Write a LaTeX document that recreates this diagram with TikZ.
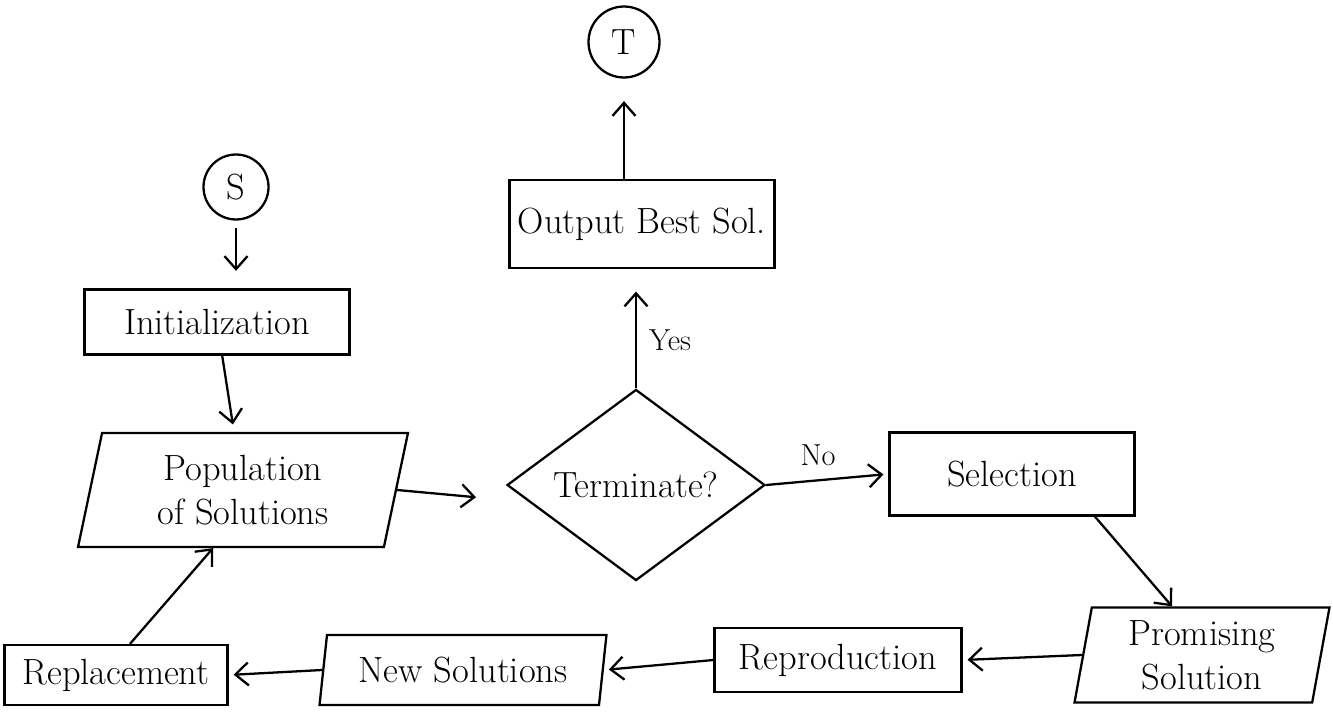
\documentclass[tikz,border=0pt]{standalone}
\usepackage{tikz}
\usetikzlibrary{positioning, arrows.meta, calc, shapes.geometric}

\begin{document}
\begin{tikzpicture}[x=0.02cm, y=-0.02cm, line width=1.3pt, font=\huge,
    arr/.style={-{Straight Barb[length=2.6mm, width=4.6mm]}},
    procbox/.style={draw, rectangle, inner sep=0pt},
    iobox/.style={draw, trapezium, trapezium stretches body, inner sep=0pt, align=center},
    termnode/.style={draw, circle, inner sep=0pt}]

    % fixed page frame
    \useasboundingbox (0,0) rectangle (1333,713);

    % start / end
    \node [termnode, minimum size=1.3cm] (start) at (236,187) {S};
    \node [termnode, minimum size=1.42cm] (stop) at (624,42) {T};

    % main blocks
    \node [procbox, minimum width=5.3cm, minimum height=1.3cm] (init) at (217,322) {Initialization};
    \node [iobox, trapezium left angle=71, trapezium right angle=109,
           minimum width=6.6cm, minimum height=2.28cm] (pop) at (243,490) {Population\\of Solutions};
    \node [draw, diamond, inner sep=0pt, minimum width=5.16cm, minimum height=3.78cm] (term) at (636,485) {Terminate?};
    \node [procbox, minimum width=5.3cm, minimum height=1.76cm] (out) at (642,224) {Output Best Sol.};
    \node [procbox, minimum width=4.9cm, minimum height=1.66cm] (sel) at (1012,474) {Selection};
    \node [iobox, trapezium left angle=76, trapezium right angle=104,
           minimum width=5.1cm, minimum height=1.9cm] (prom) at (1202,655) {Promising\\Solution};
    \node [procbox, minimum width=4.94cm, minimum height=1.28cm] (repro) at (838,660) {Reproduction};
    \node [iobox, trapezium left angle=74, trapezium right angle=106,
           minimum width=5.74cm, minimum height=1.4cm] (newsol) at (463,670) {New Solutions};
    \node [procbox, minimum width=4.46cm, minimum height=1.2cm] (repl) at (116,675) {Replacement};

    % branch labels
    \node [font=\LARGE] (yes) at (670,340) {Yes};
    \node [font=\LARGE] (no) at (818,455) {No};

    % connectors
    \draw [arr, shorten <=4pt, shorten >=0.35cm] (start.south) -- (start.south |- init.north);
    \draw [arr, shorten >=0.15cm] (init) -- (pop);
    \draw [arr, shorten >=0.6cm] (pop.east) -- ([yshift=-0.3cm]term.west);
    \draw [arr, shorten >=0.45cm] (term.north) -- (term.north |- out.south);
    \draw [arr, shorten >=0.45cm] (stop.south |- out.north) -- (stop.south);
    \draw [arr, shorten >=0.1cm] (term.east) -- (sel.west);
    \draw [arr] ([xshift=1.66cm]sel.south) -- ([xshift=-0.6cm]prom.north);
    \draw [arr, shorten >=0.1cm] (prom.west) -- (repro.east);
    \draw [arr, shorten >=0.1cm] (repro.west) -- (newsol.east);
    \draw [arr, shorten >=0.1cm] (newsol.west) -- (repl.east);
    \draw [arr] ([xshift=0.28cm]repl.north) -- ([xshift=-0.6cm]pop.south);
\end{tikzpicture}
\end{document}
